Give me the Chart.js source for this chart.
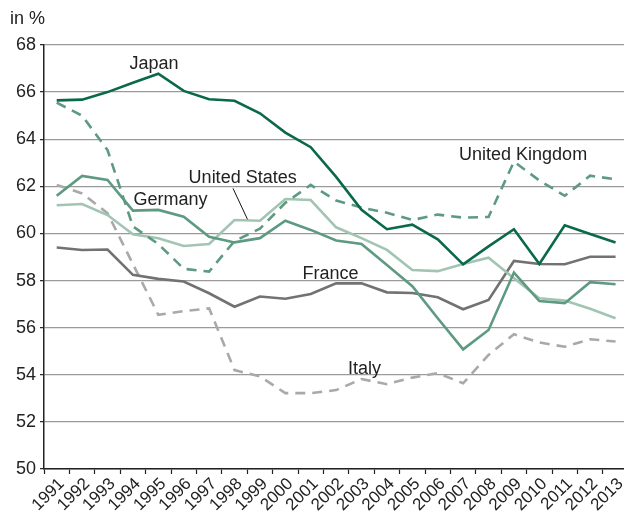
<!DOCTYPE html>
<html>
<head>
<meta charset="utf-8">
<script src="https://cdn.jsdelivr.net/npm/chart.js@4/dist/chart.umd.min.js"></script>
<style>
  html, body { margin: 0; padding: 0; background: #fff; overflow: hidden; }
  #wrap { width: 624px; height: 513px; overflow: hidden; position: relative; }
  canvas { display: block; }
</style>
</head>
<body>
<div id="wrap"><canvas id="c" width="630" height="513"></canvas></div>
<script>
// Employment rates by country, 1991–2013 (in %)
const years = ['1991','1992','1993','1994','1995','1996','1997','1998','1999','2000','2001','2002',
               '2003','2004','2005','2006','2007','2008','2009','2010','2011','2012','2013'];

const japan = [65.65, 65.68, 66.0, 66.4, 66.78, 66.05, 65.7, 65.63, 65.1, 64.28, 63.66, 62.4,
               61.0, 60.18, 60.37, 59.75, 58.69, 59.45, 60.18, 58.7, 60.35, 59.98, 59.62];
const unitedKingdom = [65.55, 65.0, 63.54, 60.3, 59.55, 58.5, 58.38, 59.68, 60.2, 61.3, 62.06, 61.4,
               61.1, 60.88, 60.57, 60.8, 60.67, 60.7, 63.05, 62.25, 61.6, 62.45, 62.3];
const germany = [61.6, 62.44, 62.27, 60.97, 61.0, 60.71, 59.86, 59.62, 59.8, 60.54, 60.15, 59.7,
               59.55, 58.66, 57.76, 56.4, 55.08, 55.9, 58.34, 57.13, 57.04, 57.93, 57.84];
const unitedStates = [61.2, 61.25, 60.78, 59.96, 59.8, 59.47, 59.55, 60.57, 60.54, 61.46, 61.42, 60.26,
               59.8, 59.3, 58.45, 58.4, 58.7, 58.97, 58.1, 57.25, 57.15, 56.8, 56.4];
const france = [59.4, 59.3, 59.32, 58.24, 58.07, 57.96, 57.46, 56.89, 57.32, 57.23, 57.43, 57.88,
               57.88, 57.5, 57.47, 57.29, 56.78, 57.18, 58.83, 58.7, 58.69, 59.01, 59.01];
const italy = [62.06, 61.7, 60.86, 58.7, 56.55, 56.7, 56.82, 54.2, 53.93, 53.22, 53.22, 53.35,
               53.82, 53.6, 53.88, 54.07, 53.64, 54.84, 55.72, 55.37, 55.19, 55.51, 55.41];

const yTicks = [50, 52, 54, 56, 58, 60, 62, 64, 66, 68];

// Series name labels placed in data space: [text, category position, value at baseline]
const seriesLabels = [
  ['Japan', 3.83, 66.98],
  ['United Kingdom', 18.36, 63.12],
  ['United States', 7.32, 62.14],
  ['Germany', 4.48, 61.21],
  ['France', 10.78, 58.06],
  ['Italy', 12.12, 54.03]
];
// Leader line from the "United States" label to its line
const leader = [[6.94, 61.915], [7.51, 60.6]];

const FONT = "'Liberation Sans', Arial, Helvetica, sans-serif";
const TEXT = '#222222';

Chart.defaults.font.family = FONT;
Chart.defaults.font.size = 17;
Chart.defaults.color = TEXT;

const labelPlugin = {
  id: 'seriesLabels',
  afterDatasetsDraw(chart) {
    const ctx = chart.ctx;
    const xs = chart.scales.x, ys = chart.scales.y;
    ctx.save();
    ctx.font = '18px ' + FONT;
    ctx.fillStyle = TEXT;
    ctx.textAlign = 'center';
    ctx.textBaseline = 'alphabetic';
    seriesLabels.forEach(([t, xi, v]) => {
      ctx.fillText(t, xs.getPixelForValue(xi), ys.getPixelForValue(v));
    });
    ctx.strokeStyle = '#111';
    ctx.lineWidth = 1;
    ctx.beginPath();
    ctx.moveTo(xs.getPixelForValue(leader[0][0]), ys.getPixelForValue(leader[0][1]));
    ctx.lineTo(xs.getPixelForValue(leader[1][0]), ys.getPixelForValue(leader[1][1]));
    ctx.stroke();
    // unit caption above the value axis
    ctx.font = '18px ' + FONT;
    ctx.textAlign = 'left';
    ctx.fillText('in %', 10, 24);
    ctx.restore();
  }
};

const line = (label, data, color, dashed) => ({
  label, data,
  borderColor: color,
  backgroundColor: color,
  borderWidth: 2.6,
  borderDash: dashed ? [10, 7] : [],
  pointRadius: 0,
  tension: 0,
  fill: false
});

new Chart(document.getElementById('c'), {
  type: 'line',
  data: {
    labels: years,
    datasets: [
      line('Japan', japan, '#0a684b', false),
      line('Germany', germany, '#5e9a82', false),
      line('United Kingdom', unitedKingdom, '#5e9a82', true),
      line('United States', unitedStates, '#a2c5b3', false),
      line('France', france, '#727272', false),
      line('Italy', italy, '#a9a9a9', true)
    ]
  },
  options: {
    responsive: false,
    animation: false,
    layout: { padding: { top: 45, left: 0, right: 1, bottom: 0 } },
    plugins: { legend: { display: false }, tooltip: { enabled: false }, title: { display: false } },
    scales: {
      x: {
        offset: true,
        grid: { drawOnChartArea: false, drawTicks: true, tickLength: 5, tickColor: '#222', offset: true, tickWidth: 1.2 },
        border: { color: '#222', width: 1.5 },
        ticks: { minRotation: 45, maxRotation: 45, autoSkip: false, padding: 0, labelOffset: 5, color: TEXT, font: { size: 17 } },
        afterFit(scale) { scale.height = 44; }
      },
      y: {
        min: 50, max: 68,
        afterBuildTicks(scale) { scale.ticks = yTicks.map(v => ({ value: v })); },
        grid: { color: '#9a9a9a', lineWidth: 1.3, tickLength: 4, tickColor: '#222', tickWidth: 1.2 },
        border: { color: '#222', width: 1.5 },
        ticks: { padding: 4, color: TEXT, font: { size: 18 } },
        afterFit(scale) { scale.width = 44; }
      }
    }
  },
  plugins: [labelPlugin]
});
</script>
</body>
</html>
